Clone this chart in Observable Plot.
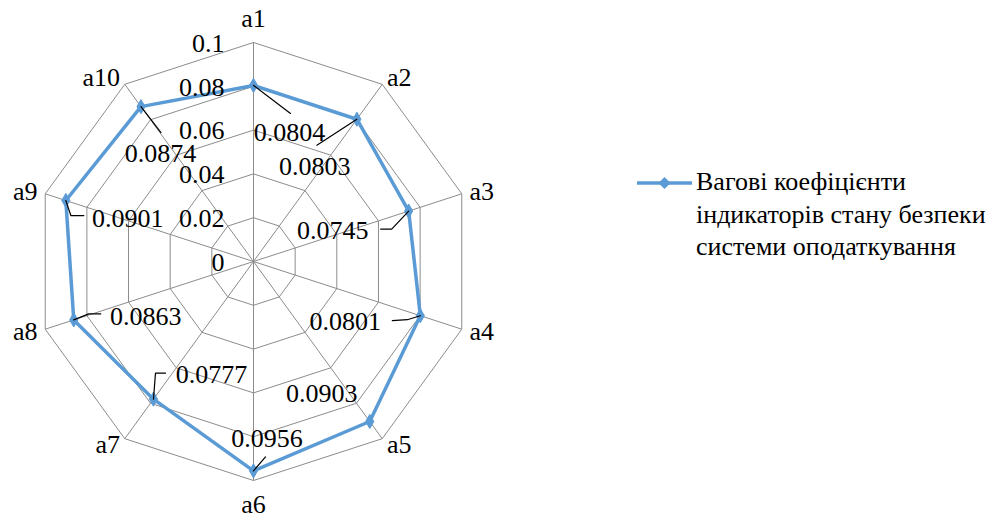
<!DOCTYPE html>
<html>
<head>
<meta charset="utf-8">
<script src="https://cdn.jsdelivr.net/npm/d3@7"></script>
<script src="https://cdn.jsdelivr.net/npm/@observablehq/plot@0.6"></script>
<style>
  body { margin: 0; background: #fff; }
  #wrap { position: relative; width: 998px; height: 517px; font-family: 'Liberation Serif', serif; }
  #wrap svg { display: block; }
  #legend { position: absolute; left: 636px; top: 166px; display: flex; align-items: flex-start; }
  #legend .txt { font-family: 'Liberation Serif', serif; font-size: 26px; line-height: 32.5px; color: #000; margin-left: 3px; white-space: nowrap; }
  #legend svg { margin-top: 6px; }
</style>
</head>
<body>
<div id="wrap"></div>
<script>
// ---- data ----
const categories = ["a1", "a2", "a3", "a4", "a5", "a6", "a7", "a8", "a9", "a10"];
const values = [0.0804, 0.0803, 0.0745, 0.0801, 0.0903, 0.0956, 0.0777, 0.0863, 0.0901, 0.0874];
const tickValues = [0, 0.02, 0.04, 0.06, 0.08, 0.1];
const tickLabels = ["0", "0.02", "0.04", "0.06", "0.08", "0.1"];
const seriesLines = ["Вагові коефіцієнти", "індикаторів стану безпеки", "системи оподаткування"];

// ---- layout ----
const W = 998, H = 517, CX = 253, CY = 261, R = 219, MAXV = 0.1;
const k = R / MAXV; // pixels per unit
const color = "#5B9BD5";
const grid = "#8c8c8c";
const font = "'Liberation Serif', serif";
// data label offsets (pixels from the point) and leader polylines
const labelOff = [[36,47],[-42,47],[-76,20],[-75,6],[-48,-28],[13.5,-32],[58,-24],[72,-3],[62,18],[19.5,47]];
const leaderOff = [
  [[0,0],[37,28]],
  [[0,0],[-40,26]],
  [[0,0],[-17,18],[-28,18]],
  [[0,0],[-13,4],[-28,5]],
  [],
  [[0,0],[12,-14]],
  [[0,0],[2,-26],[12,-26]],
  [[0,0],[15,-6],[27,-6]],
  [[0,0],[5,15],[18,15]],
  [[0,0],[20,26]]
];

const n = categories.length;
const ang = i => 2 * Math.PI * i / n;
const px = (i, v) => v * Math.sin(ang(i));
const py = (i, v) => v * Math.cos(ang(i));

// grid rings
const rings = [];
tickValues.filter(t => t > 0).forEach(t => {
  for (let i = 0; i <= n; i++) rings.push({ring: t, x: px(i % n, t), y: py(i % n, t)});
});
const spokes = categories.map((c, i) => ({x1: 0, y1: 0, x2: px(i, MAXV), y2: py(i, MAXV)}));

// series polygon
const pts = values.map((v, i) => ({cat: categories[i], v, i, x: px(i, v), y: py(i, v)}));
const closed = [...pts, pts[0]];

// data labels
const dlabels = pts.map((p, i) => ({
  text: String(p.v),
  x: p.x + labelOff[i][0] / k,
  y: p.y - labelOff[i][1] / k
}));
const leaders = [];
pts.forEach((p, i) => leaderOff[i].forEach(o => leaders.push({i, x: p.x + o[0] / k, y: p.y - o[1] / k})));

// category labels
const catLabels = categories.map((c, i) => {
  const s = Math.sin(ang(i));
  const d = Math.abs(s) < 0.1 ? 24 : 8;
  const r = MAXV + d / k;
  return {c, s, x: px(i, r), y: py(i, r)};
});

const fs = 26;
const T = {fontSize: fs, fontFamily: font, fill: "#000"};
const plot = Plot.plot({
  width: W,
  height: H,
  margin: 0,
  style: {fontFamily: font, background: "transparent", color: "#000"},
  x: {domain: [-CX / k, (W - CX) / k], range: [0, W], axis: null},
  y: {domain: [-(H - CY) / k, CY / k], range: [H, 0], axis: null},
  marks: [
    Plot.line(rings, {x: "x", y: "y", z: "ring", stroke: grid, strokeWidth: 1}),
    Plot.link(spokes, {x1: "x1", y1: "y1", x2: "x2", y2: "y2", stroke: grid, strokeWidth: 1}),
    Plot.line(closed, {x: "x", y: "y", stroke: color, strokeWidth: 3.5, strokeLinejoin: "miter"}),
    Plot.dot(pts, {x: "x", y: "y", symbol: "diamond", r: 4.3, fill: color, stroke: color, strokeWidth: 1}),
    Plot.line(leaders, {x: "x", y: "y", z: "i", stroke: "#000", strokeWidth: 1.2}),
    Plot.text(tickValues, {x: 0, y: d => d, text: (d, i) => tickLabels[i], textAnchor: "end", dx: -29, dy: 1, ...T}),
    Plot.text(dlabels, {x: "x", y: "y", text: "text", ...T}),
    Plot.text(catLabels.filter(d => d.s > 0.1), {x: "x", y: "y", text: "c", textAnchor: "start", ...T}),
    Plot.text(catLabels.filter(d => d.s < -0.1), {x: "x", y: "y", text: "c", textAnchor: "end", ...T}),
    Plot.text(catLabels.filter(d => Math.abs(d.s) <= 0.1), {x: "x", y: "y", text: "c", textAnchor: "middle", ...T})
  ]
});
const wrap = document.getElementById("wrap");
wrap.appendChild(plot);

// legend
const leg = document.createElement("div");
leg.id = "legend";
leg.innerHTML = `<svg width="57" height="22" viewBox="0 0 57 22">
  <line x1="1" y1="11" x2="56" y2="11" stroke="${color}" stroke-width="3.5"/>
  <path d="M28.5 5 L34.5 11 L28.5 17 L22.5 11 Z" fill="${color}"/>
</svg><div class="txt">${seriesLines.join("<br>")}</div>`;
wrap.appendChild(leg);
</script>
</body>
</html>
